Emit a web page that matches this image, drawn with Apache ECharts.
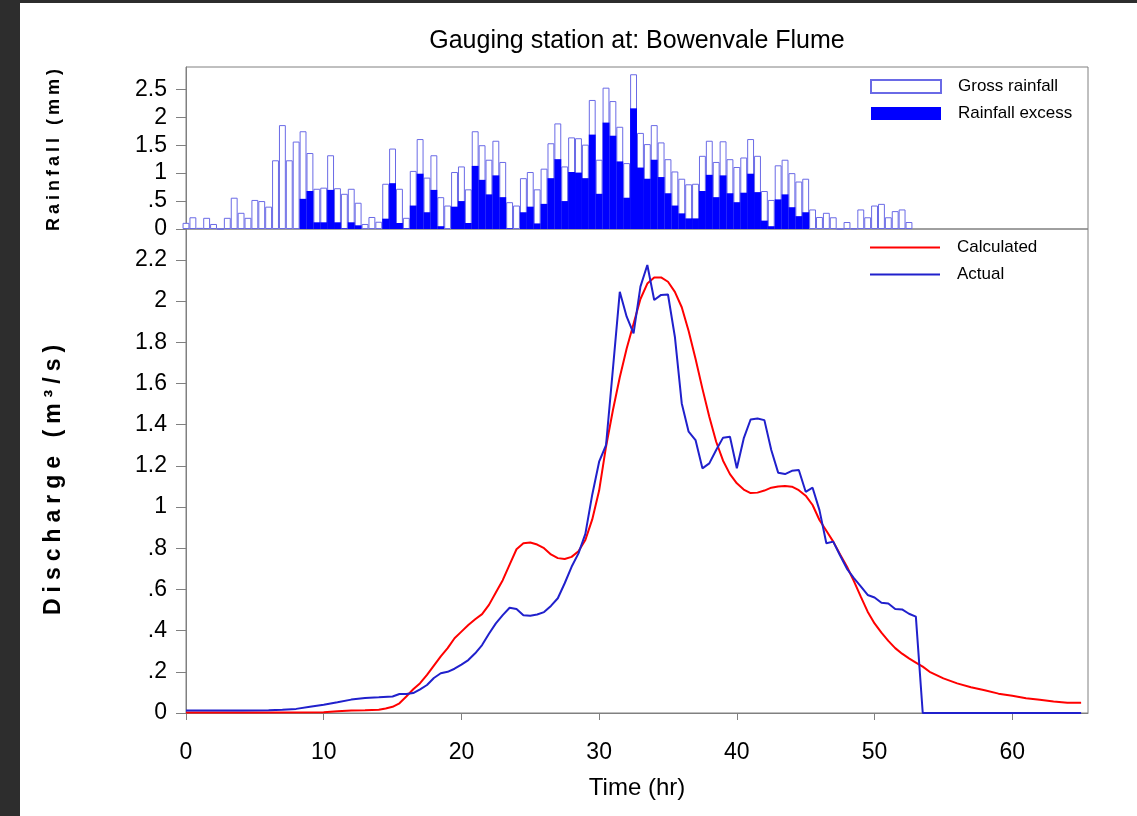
<!DOCTYPE html>
<html>
<head>
<meta charset="utf-8">
<script src="https://cdn.jsdelivr.net/npm/echarts@6/dist/echarts.min.js"></script>
<style>
html,body{margin:0;padding:0;background:#fff;}
#chart{position:absolute;left:0;top:0;width:1137px;height:816px;}
.frame{position:absolute;background:#2d2d2d;}
</style>
</head>
<body>
<div id="chart"></div>
<div class="frame" style="left:0;top:0;width:20px;height:816px"></div>
<div class="frame" style="left:0;top:0;width:1137px;height:3px"></div>
<script>
// ---------------- DATA ----------------
const rainTime = [0,0.5,1,1.5,2,2.5,3,3.5,4,4.5,5,5.5,6,6.5,7,7.5,8,8.5,9,9.5,10,10.5,11,11.5,12,12.5,13,13.5,14,14.5,15,15.5,16,16.5,17,17.5,18,18.5,19,19.5,20,20.5,21,21.5,22,22.5,23,23.5,24,24.5,25,25.5,26,26.5,27,27.5,28,28.5,29,29.5,30,30.5,31,31.5,32,32.5,33,33.5,34,34.5,35,35.5,36,36.5,37,37.5,38,38.5,39,39.5,40,40.5,41,41.5,42,42.5,43,43.5,44,44.5,45,45.5,46,46.5,47,47.5,48,48.5,49,49.5,50,50.5,51,51.5,52,52.5];
const grossRain = [
 0.11,0.21,0.02,0.20,0.09,0,0.20,0.56,0.29,0.20,
 0.52,0.50,0.40,1.23,1.86,1.23,1.565,1.75,1.36,0.72,
 0.74,1.32,0.73,0.63,0.72,0.47,0.09,0.215,0.13,0.81,
 1.44,0.72,0.20,1.04,1.61,0.92,1.32,0.57,0.42,1.02,
 1.12,0.71,1.75,1.50,1.24,1.58,1.20,0.48,0.42,0.91,
 1.02,0.71,1.08,1.535,1.89,1.12,1.64,1.625,1.51,2.31,
 1.24,2.53,2.29,1.83,1.18,2.77,1.72,1.52,1.86,1.55,
 1.25,1.03,0.90,0.80,0.81,1.31,1.58,1.20,1.57,1.25,
 1.11,1.28,1.61,1.31,0.68,0.52,1.14,1.24,1.00,0.85,
 0.90,0.35,0.215,0.29,0.21,0,0.125,0.01,0.35,0.21,
 0.42,0.45,0.21,0.32,0.35,0.125];
const excessRain = [
 0,0,0,0,0,0,0,0,0,0,
 0,0,0,0,0,0,0,0.54,0.68,0.12,
 0.12,0.70,0.12,0.01,0.12,0.066,0,0,0,0.185,
 0.82,0.107,0.01,0.42,0.99,0.30,0.70,0.05,0,0.40,
 0.50,0.107,1.13,0.88,0.62,0.96,0.57,0.01,0,0.30,
 0.40,0.10,0.45,0.91,1.25,0.50,1.02,1.01,0.91,1.69,
 0.63,1.905,1.67,1.21,0.56,2.16,1.10,0.90,1.24,0.93,
 0.64,0.42,0.28,0.19,0.19,0.68,0.97,0.57,0.96,0.64,
 0.48,0.65,0.99,0.66,0.15,0.05,0.53,0.62,0.39,0.23,
 0.30,0,0,0,0,0,0,0,0,0,
 0,0,0,0,0,0];

const calcTime = [0,5,10,11,12,13,14,14.5,15,15.5,16,16.5,17,17.5,18,18.5,19,19.5,20,20.5,21,21.5,22,22.5,23,23.5,24,24.5,25,25.5,26,26.5,27,27.5,28,28.5,29,29.5,30,30.5,31,31.5,32,32.5,33,33.5,34,34.5,35,35.5,36,36.5,37,37.5,38,38.5,39,39.5,40,40.5,41,41.5,42,42.5,43,43.5,44,44.5,45,45.5,46,46.5,47,47.5,48,48.5,49,49.5,50,50.5,51,51.5,52,52.5,53,53.5,54,55,56,57,58,59,60,61,62,63,64,65];
const calcFlow = [0.003,0.003,0.004,0.008,0.012,0.013,0.016,0.022,0.03,0.047,0.08,0.115,0.145,0.185,0.23,0.275,0.315,0.363,0.395,0.427,0.455,0.48,0.525,0.585,0.645,0.72,0.795,0.824,0.828,0.818,0.80,0.77,0.752,0.748,0.758,0.785,0.84,0.94,1.08,1.293,1.47,1.63,1.77,1.89,2.01,2.085,2.115,2.115,2.094,2.045,1.97,1.855,1.72,1.575,1.438,1.317,1.225,1.16,1.115,1.085,1.068,1.07,1.08,1.094,1.10,1.102,1.099,1.082,1.055,1.01,0.937,0.885,0.832,0.77,0.71,0.64,0.565,0.492,0.435,0.39,0.35,0.315,0.288,0.265,0.245,0.225,0.2,0.168,0.144,0.125,0.11,0.094,0.084,0.072,0.064,0.056,0.05,0.05];

const actualTime = [0,2,4,6,7,8,9,10,11,12,13,14,15,15.5,16,16.5,17,17.5,18,18.5,19,19.5,20,20.5,21,21.5,22,22.5,23,23.5,24,24.5,25,25.5,26,26.5,27,27.5,28,28.5,29,29.5,30,30.5,31,31.5,32,32.5,33,33.5,34,34.5,35,35.5,36,36.5,37,37.5,38,38.5,39,39.5,40,40.5,41,41.5,42,42.5,43,43.5,44,44.5,45,45.5,46,46.5,47,47.5,48,48.5,49,49.5,50,50.5,51,51.5,52,52.5,53,53.5,65];
const actualFlow = [0.012,0.012,0.012,0.013,0.016,0.02,0.03,0.04,0.052,0.065,0.073,0.076,0.08,0.092,0.092,0.097,0.115,0.136,0.17,0.193,0.2,0.215,0.235,0.257,0.29,0.33,0.385,0.435,0.475,0.511,0.505,0.475,0.472,0.478,0.49,0.52,0.557,0.63,0.71,0.775,0.87,1.06,1.22,1.30,1.67,2.045,1.924,1.843,2.07,2.175,2.005,2.03,2.032,1.827,1.503,1.366,1.325,1.188,1.212,1.277,1.337,1.341,1.188,1.333,1.425,1.43,1.422,1.277,1.167,1.16,1.176,1.18,1.074,1.094,0.985,0.824,0.832,0.765,0.70,0.655,0.615,0.573,0.561,0.535,0.532,0.505,0.503,0.482,0.468,0,0];

const rainTicks = [0,0.5,1,1.5,2,2.5];
const flowTicks = [0,0.2,0.4,0.6,0.8,1,1.2,1.4,1.6,1.8,2,2.2];
const timeTicks = [0,10,20,30,40,50,60];

// ---------------- HELPERS ----------------
function zip(a, b) { return a.map((v, i) => [v, b[i]]); }
function fmtTick(list) {
  return function (v) {
    const hit = list.some(t => Math.abs(t - v) < 1e-6);
    if (!hit) return '';
    const r = Math.round(v * 100) / 100;
    if (r === 0) return '0';
    return String(r).replace(/^0\./, '.');
  };
}
// wide letter spacing only for the two vertical axis titles
const SPACED = {'Rainfall (mm)': '4px', 'Discharge (m³/s)': '6px'};
(function () {
  const P = CanvasRenderingContext2D.prototype;
  if (!('letterSpacing' in P)) return;
  const orig = P.fillText;
  P.fillText = function (t, x, y, mw) {
    const ls = SPACED[t];
    if (ls) {
      this.save();
      this.letterSpacing = ls;
      const r = (mw === undefined) ? orig.call(this, t, x, y) : orig.call(this, t, x, y, mw);
      this.letterSpacing = '0px';
      this.restore();
      const f = this.font; this.font = f;
      return r;
    }
    if (this.letterSpacing && this.letterSpacing !== '0px') this.letterSpacing = '0px';
    return (mw === undefined) ? orig.call(this, t, x, y) : orig.call(this, t, x, y, mw);
  };
})();

const FONT = "'Liberation Sans', Arial, Helvetica, sans-serif";
const GRID_L = 186, GRID_R = 49;
const X_MAX = 65.5;
const AX = '#808080';
const barPx = (1137 - GRID_L - GRID_R) / X_MAX * 0.5;

const chart = echarts.init(document.getElementById('chart'), null, {renderer: 'canvas'});
chart.setOption({
  animation: false,
  backgroundColor: '#fff',
  textStyle: {fontFamily: FONT},
  title: {
    text: 'Gauging station at: Bowenvale Flume',
    left: 637, top: 29, textAlign: 'center', padding: 0,
    textStyle: {fontSize: 25, fontWeight: 'normal', color: '#000', fontFamily: FONT}
  },
  legend: [
    {
      data: ['Gross rainfall', 'Rainfall excess'],
      orient: 'vertical', left: 870, top: 78, padding: 0,
      itemWidth: 70, itemHeight: 13, itemGap: 10, icon: 'rect',
      selectedMode: false,
      textStyle: {fontSize: 17, color: '#000', fontFamily: FONT, lineHeight: 14, padding: [0, 0, 0, 12]}
    },
    {
      data: ['Calculated', 'Actual'],
      orient: 'vertical', left: 870, top: 239, padding: 0,
      itemWidth: 70, itemHeight: 2, itemGap: 10, icon: 'rect',
      selectedMode: false,
      textStyle: {fontSize: 17, color: '#000', fontFamily: FONT, lineHeight: 14, padding: [0, 0, 0, 12]}
    }
  ],
  grid: [
    {left: GRID_L, right: GRID_R, top: 67, height: 162, show: true, borderColor: AX, borderWidth: 1, backgroundColor: 'transparent'},
    {left: GRID_L, right: GRID_R, top: 229, bottom: 103, show: true, borderColor: AX, borderWidth: 1, backgroundColor: 'transparent'}
  ],
  xAxis: [
    {gridIndex: 0, type: 'value', min: 0, max: X_MAX, show: false},
    {
      gridIndex: 1, type: 'value', min: 0, max: X_MAX, interval: 10,
      axisLine: {show: true, onZero: false, lineStyle: {color: AX, width: 1}},
      axisTick: {show: true, length: 7, lineStyle: {color: AX}, customValues: timeTicks},
      axisLabel: {customValues: timeTicks, formatter: fmtTick(timeTicks), fontSize: 23, color: '#000', margin: 28, fontFamily: FONT},
      splitLine: {show: false},
      name: 'Time (hr)', nameLocation: 'middle', nameGap: 63,
      nameTextStyle: {fontSize: 24, color: '#000', fontFamily: FONT}
    }
  ],
  yAxis: [
    {
      gridIndex: 0, type: 'value', min: 0, max: 2.9, interval: 0.5,
      axisLine: {show: true, onZero: false, lineStyle: {color: AX, width: 1}},
      axisTick: {show: true, length: 10, lineStyle: {color: AX}, customValues: rainTicks},
      axisLabel: {customValues: rainTicks, formatter: fmtTick(rainTicks), fontSize: 23, color: '#000', margin: 19, fontFamily: FONT},
      splitLine: {show: false},
      name: 'Rainfall (mm)', nameLocation: 'middle', nameRotate: 90, nameGap: 123,
      nameTextStyle: {fontSize: 18, fontWeight: 'bold', color: '#000', fontFamily: FONT}
    },
    {
      gridIndex: 1, type: 'value', min: 0, max: 2.35, interval: 0.2,
      axisLine: {show: true, onZero: false, lineStyle: {color: AX, width: 1}},
      axisTick: {show: true, length: 10, lineStyle: {color: AX}, customValues: flowTicks},
      axisLabel: {customValues: flowTicks, formatter: fmtTick(flowTicks), fontSize: 23, color: '#000', margin: 19, fontFamily: FONT},
      splitLine: {show: false},
      name: 'Discharge (m³/s)', nameLocation: 'middle', nameRotate: 90, nameGap: 121,
      nameTextStyle: {fontSize: 23, fontWeight: 'bold', color: '#000', fontFamily: FONT, padding: [0, 12, 0, 0]}
    }
  ],
  series: [
    {
      type: 'bar', name: 'Gross rainfall', xAxisIndex: 0, yAxisIndex: 0,
      data: zip(rainTime, grossRain), barWidth: barPx, barGap: '-100%',
      itemStyle: {color: '#ffffff', borderColor: '#6a6ae6', borderWidth: 1},
      emphasis: {disabled: true}
    },
    {
      type: 'bar', name: 'Rainfall excess', xAxisIndex: 0, yAxisIndex: 0,
      data: zip(rainTime, excessRain), barWidth: barPx, barGap: '-100%',
      itemStyle: {color: '#0000ff', borderWidth: 0},
      emphasis: {disabled: true}
    },
    {
      type: 'line', name: 'Calculated', xAxisIndex: 1, yAxisIndex: 1,
      data: zip(calcTime, calcFlow), symbol: 'none',
      lineStyle: {color: '#ff0000', width: 2}, itemStyle: {color: '#ff0000'},
      emphasis: {disabled: true}
    },
    {
      type: 'line', name: 'Actual', xAxisIndex: 1, yAxisIndex: 1,
      data: zip(actualTime, actualFlow), symbol: 'none',
      lineStyle: {color: '#2020cc', width: 2}, itemStyle: {color: '#2020cc'},
      emphasis: {disabled: true}
    }
  ]
});
</script>
</body>
</html>
